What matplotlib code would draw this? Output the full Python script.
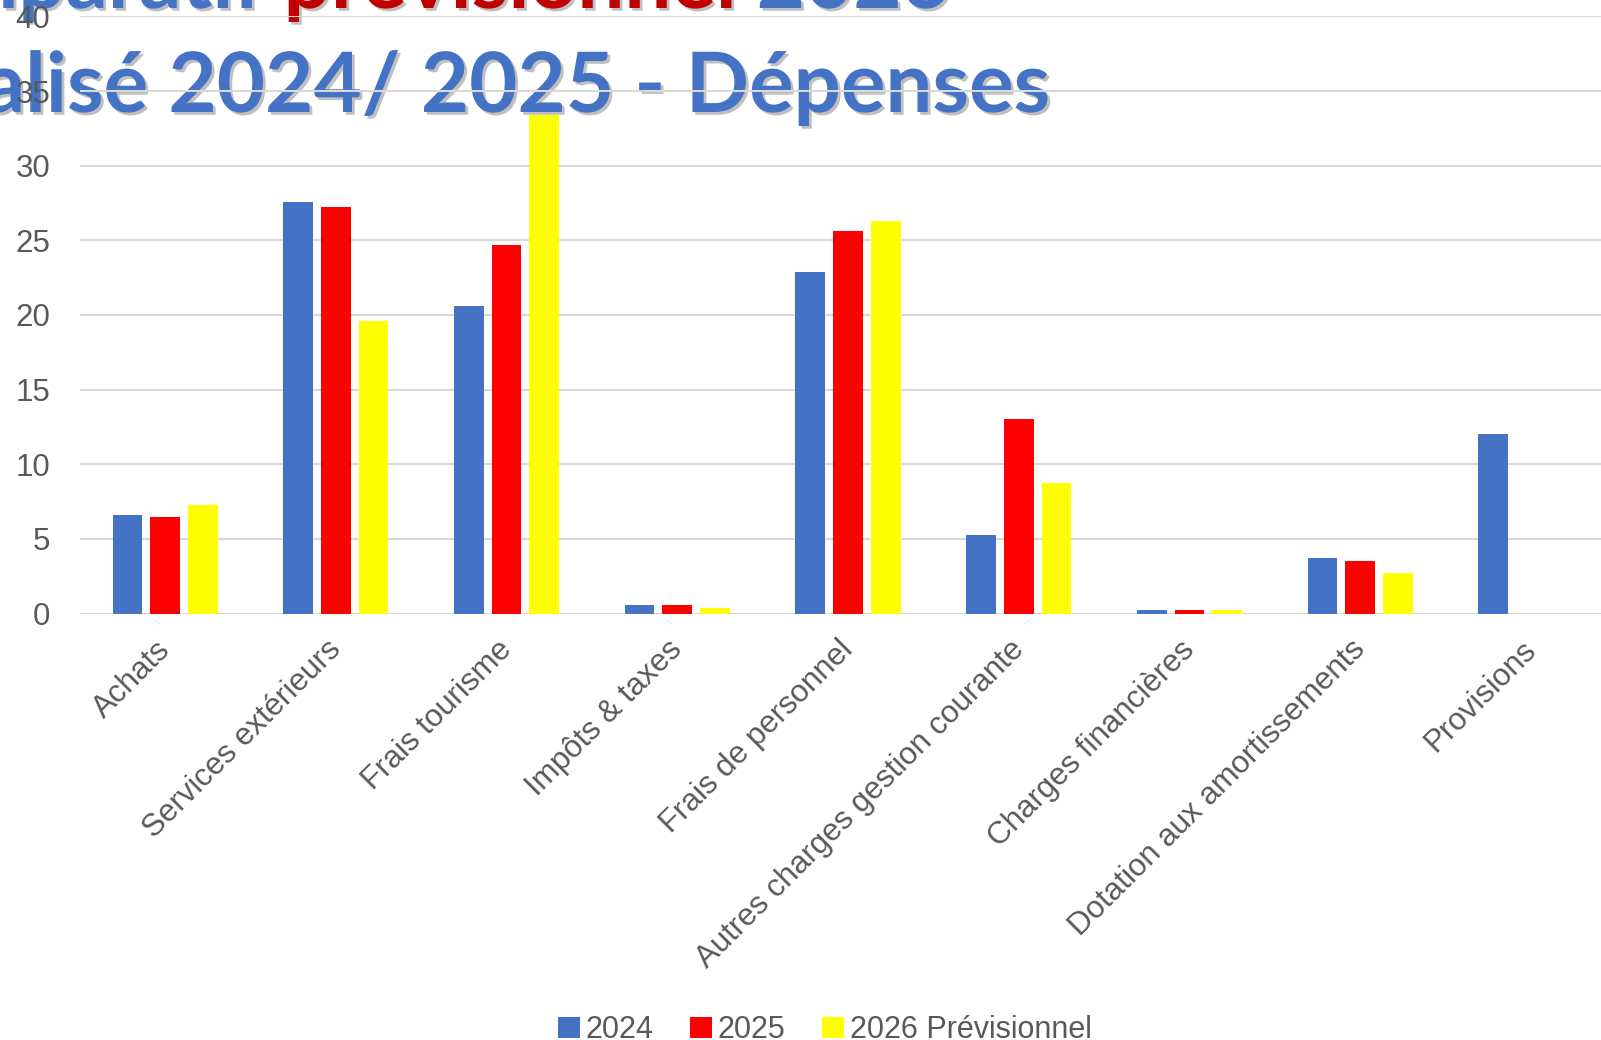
import numpy as np
import matplotlib.pyplot as plt
import matplotlib.patheffects as pe
import matplotlib.transforms as mtransforms

categories = ["Achats", "Services extérieurs", "Frais tourisme", "Impôts & taxes",
              "Frais de personnel", "Autres charges gestion courante",
              "Charges financières", "Dotation aux amortissements", "Provisions"]
v2024 = [6.6, 27.6, 20.6, 0.55, 22.9, 5.3, 0.27, 3.7, 12.0]
v2025 = [6.45, 27.2, 24.7, 0.55, 25.6, 13.05, 0.27, 3.55, 0]
v2026 = [7.25, 19.6, 33.4, 0.4, 26.3, 8.75, 0.27, 2.75, 0]
series = ["2024", "2025", "2026 Prévisionnel"]
colors = ["#4472C4", "#FF0000", "#FFFF00"]

W, H = 1601, 1040
s = W / 1568.0  # mesures prises sur l'image reduite
fig = plt.figure(figsize=(W/100, H/100), dpi=100)
ax = fig.add_axes([78*s/W, 1-601*s/H, 1-78*s/W, (601-16)*s/H])
ax.set_zorder(1)
ax.patch.set_alpha(0)

x = np.arange(len(categories))
bw = 0.173
step = 0.221
for i, (vals, c, lab) in enumerate(zip([v2024, v2025, v2026], colors, series)):
    ax.bar(x + (i-1)*step, vals, bw, color=c, label=lab, zorder=2)

ax.set_xlim(-0.5, 8.41)
ax.set_ylim(0, 40)
ax.set_yticks(range(0, 41, 5))
ax.grid(axis="y", color="#D9D9D9", linewidth=1.5, zorder=0)
for sp in ax.spines.values():
    sp.set_visible(False)
ax.tick_params(length=0, labelsize=22.5, labelcolor="#595959")
ax.tick_params(axis="y", pad=21)
ax.tick_params(axis="x", pad=18)
ax.set_xticks(x)
ax.set_xticklabels(categories, rotation=45, ha="right", rotation_mode="anchor",
                   fontfamily="Liberation Sans")
shift = mtransforms.ScaledTranslation(-0.10, 0.04, fig.dpi_scale_trans)
for t in ax.get_xticklabels():
    t.set_transform(t.get_transform() + shift)
for t in ax.get_yticklabels():
    t.set_fontfamily("Liberation Sans")

# titre (derriere le graphique, coupe en haut et a gauche)
blue = "#4472C4"
red = "#C00000"
fx = dict(fontsize=60, fontweight="bold", family="Lato", zorder=-1,
          path_effects=[pe.SimplePatchShadow(offset=(2, -2), shadow_rgbFace="#808080", alpha=0.5),
                        pe.Normal()])
line1 = [("Comparatif ", blue), ("prévisionnel ", red), ("2026", blue)]
line2 = [("Réalisé 2024/ 2025 - Dépenses", blue)]

fig.canvas.draw()
r = fig.canvas.get_renderer()
for pieces, xr, yb in [(line1, 950, 8), (line2, 1050, 112)]:
    xpos = xr / W
    for txt, c in reversed(pieces):
        t = fig.text(xpos, 1-yb/H, txt, color=c, ha="right", va="baseline", **fx)
        bb = t.get_window_extent(r)
        xpos = bb.x0 / W

fig.legend(loc="center", bbox_to_anchor=(825/W, 1-1030/H), ncol=3, frameon=False,
           handlelength=0.7, handleheight=0.7, handletextpad=0.2,
           columnspacing=1.2, labelcolor="#595959",
           prop={"family": "Liberation Sans", "size": 22})

fig.savefig("out.png", dpi=100)
